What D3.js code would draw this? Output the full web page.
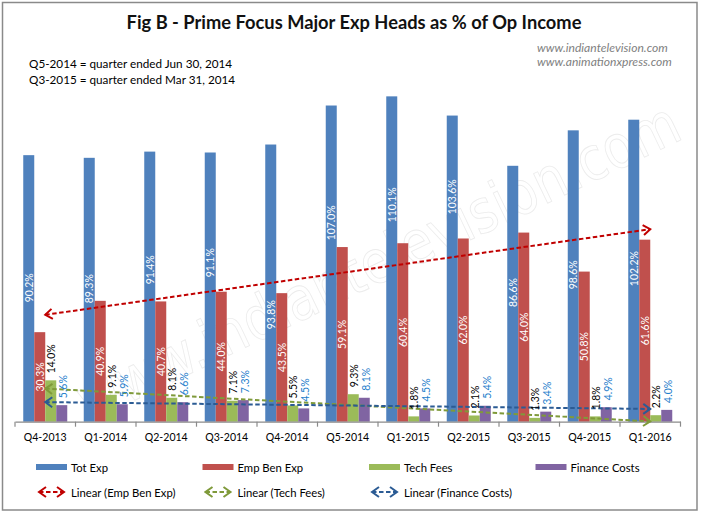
<!DOCTYPE html>
<html>
<head>
<meta charset="utf-8">
<script src="https://cdn.jsdelivr.net/npm/d3@7/dist/d3.min.js"></script>
<style>
  html, body { margin: 0; padding: 0; background: #fff; }
  svg { display: block; }
</style>
</head>
<body>
<svg id="chart" width="705" height="515"></svg>
<script>
// ---------------- DATA ----------------
const categories = ["Q4-2013","Q1-2014","Q2-2014","Q3-2014","Q4-2014","Q5-2014","Q1-2015","Q2-2015","Q3-2015","Q4-2015","Q1-2016"];
const totExp      = [90.2, 89.3, 91.4, 91.1, 93.8, 107.0, 110.1, 103.6, 86.6, 98.6, 102.2];
const empBenExp   = [30.3, 40.9, 40.7, 44.0, 43.5, 59.1, 60.4, 62.0, 64.0, 50.8, 61.6];
const techFees    = [14.0, 9.1, 8.1, 7.1, 5.5, 9.3, 1.8, 2.1, 1.3, 1.8, 2.2];
const financeCosts= [5.6, 5.9, 6.6, 7.3, 4.5, 8.1, 4.5, 5.4, 3.4, 4.9, 4.0];
// value (in %) at which each Tot Exp label is centred
const totLabelAt  = [45.3, 45.0, 51.4, 53.8, 36.2, 67.3, 73.4, 76.1, 43.7, 49.7, 51.8];
const seriesNames = ["Tot Exp","Emp Ben Exp","Tech Fees","Finance Costs"];
const trendNames  = ["Linear (Emp Ben Exp)","Linear (Tech Fees)","Linear (Finance Costs)"];
const titleText = "Fig B - Prime Focus Major Exp Heads as % of Op Income";
const noteLines = ["Q5-2014 = quarter ended Jun 30, 2014","Q3-2015 = quarter ended Mar 31, 2014"];
const siteLines = ["www.indiantelevision.com","www.animationxpress.com"];
const watermarkText = "www.indiantelevision.com";

// ---------------- STYLE ----------------
const FONT = "Lato, 'Open Sans', sans-serif";
const barColors   = ["#4F81BD","#C0504D","#9BBB59","#8064A2"];
const trendColors = ["#C00000","#7F9A3A","#2B5B94"];
const labelColors = ["#FFFFFF","#FFFFFF","#000000","#1F80CC"];

const canvas = document.createElement("canvas");
const ctx = canvas.getContext("2d");
function fit(text, target, weight = "normal", style = "normal") {
  ctx.font = `${style} ${weight} 100px Lato`;
  return 100 * target / ctx.measureText(text).width;
}

const svg = d3.select("#chart");

// border
svg.append("rect").attr("x", 2.5).attr("y", 2.5).attr("width", 694.5).attr("height", 507.5)
  .attr("fill", "#fff").attr("stroke", "#8a8a8a").attr("stroke-width", 1.5);

// scales
const baseY = 421.7;
const y = d3.scaleLinear().domain([0, 120]).range([baseY, baseY - 120 * 2.955]);
const x0 = d3.scaleBand().domain(categories).range([15, 680.5]).paddingInner(0).paddingOuter(0);
const x1 = d3.scaleBand().domain(seriesNames).range([0, x0.bandwidth()]).paddingInner(0).paddingOuter(0.75);
const allSeries = [totExp, empBenExp, techFees, financeCosts];

// watermark (faint outline)
svg.append("text")
  .attr("transform", "translate(378,261) rotate(-25.5)")
  .attr("text-anchor", "middle").attr("dominant-baseline", "central")
  .attr("font-family", "'DejaVu Sans', sans-serif").attr("font-size", 60)
  .attr("textLength", 660).attr("lengthAdjust", "spacingAndGlyphs")
  .attr("fill", "none").attr("stroke", "#ececec").attr("stroke-width", 0.9)
  .text(watermarkText);

// title
svg.append("text").attr("x", 354).attr("y", 28.5).attr("text-anchor", "middle")
  .attr("font-family", FONT).attr("font-weight", "bold")
  .attr("font-size", fit(titleText, 456, "bold")).attr("fill", "#111")
  .text(titleText);

// website lines
const siteSize = fit(siteLines[0], 131, "normal", "italic");
svg.selectAll("text.site").data(siteLines).join("text").attr("class", "site")
  .attr("x", 537).attr("y", (d, i) => 52 + i * 13.5)
  .attr("font-family", FONT).attr("font-style", "italic")
  .attr("font-size", siteSize).attr("fill", "#7f7f7f").text(d => d);

// notes
const noteSize = fit(noteLines[0], 204);
svg.selectAll("text.note").data(noteLines).join("text").attr("class", "note")
  .attr("x", 29).attr("y", (d, i) => 67.5 + i * 16.5)
  .attr("font-family", FONT).attr("font-size", noteSize).attr("fill", "#000").text(d => d);

// bars
const groups = svg.append("g").selectAll("g").data(categories).join("g")
  .attr("transform", d => `translate(${x0(d)},0)`);
seriesNames.forEach((s, si) => {
  groups.append("rect")
    .attr("x", x1(s)).attr("width", x1.bandwidth())
    .attr("y", (d, i) => y(allSeries[si][i]))
    .attr("height", (d, i) => y(0) - y(allSeries[si][i]))
    .attr("fill", barColors[si]);
});

// axis
const axis = d3.axisBottom(x0).tickSize(0).tickFormat(d => d);
const axisG = svg.append("g").attr("transform", `translate(0,${baseY})`).call(axis);
axisG.select(".domain").attr("stroke", "#8a8a8a").attr("stroke-width", 1.2);
const catLabelSize = fit("Q4-2013", 43);
axisG.selectAll(".tick text").attr("font-family", FONT).attr("font-size", catLabelSize)
  .attr("fill", "#000").attr("dy", 0).attr("y", 19.5);
// category boundary tick marks
const boundaries = categories.map(c => x0(c)).concat([x0(categories[categories.length - 1]) + x0.bandwidth()]);
svg.append("g").selectAll("line").data(boundaries).join("line")
  .attr("x1", d => d).attr("x2", d => d).attr("y1", baseY).attr("y2", baseY + 5)
  .attr("stroke", "#8a8a8a").attr("stroke-width", 1.2);

// arrow markers
const defs = svg.append("defs");
trendColors.forEach((c, i) => {
  defs.append("marker").attr("id", "arr" + i)
    .attr("viewBox", "-10 -6 12 12").attr("refX", 0).attr("refY", 0)
    .attr("markerWidth", 12).attr("markerHeight", 12).attr("markerUnits", "userSpaceOnUse")
    .attr("orient", "auto-start-reverse")
    .append("path").attr("d", "M-7,-5 L0,0 L-7,5")
    .attr("fill", "none").attr("stroke", c).attr("stroke-width", 2)
    .attr("stroke-dasharray", "none");
});

// trend lines (least squares on the series)
function linreg(vals) {
  const n = vals.length, xs = d3.range(n);
  const mx = d3.mean(xs), my = d3.mean(vals);
  const sxy = d3.sum(xs, i => (i - mx) * (vals[i] - my));
  const sxx = d3.sum(xs, i => (i - mx) * (i - mx));
  const b = sxy / sxx;
  return i => my + b * (i - mx);
}
const center = i => x0(categories[i]) + x0.bandwidth() / 2;
[empBenExp, techFees, financeCosts].forEach((vals, ti) => {
  const f = linreg(vals);
  const last = vals.length - 1;
  svg.append("line")
    .attr("x1", center(0)).attr("y1", y(f(0)))
    .attr("x2", center(last)).attr("y2", y(f(last)))
    .attr("stroke", trendColors[ti]).attr("stroke-width", 2)
    .attr("stroke-dasharray", "4.5,2.5")
    .attr("marker-start", `url(#arr${ti})`).attr("marker-end", `url(#arr${ti})`);
});

// data labels
const lblSize = fit("90.2%", 29);
const fmt = v => v.toFixed(1) + "%";
const lblG = svg.append("g").attr("font-family", FONT).attr("font-size", lblSize);
categories.forEach((c, i) => {
  const bx = si => x0(c) + x1(seriesNames[si]) + x1.bandwidth() / 2;
  lblG.append("text").attr("transform", `translate(${bx(0)},${y(totLabelAt[i])}) rotate(-90)`)
    .attr("text-anchor", "middle").attr("dominant-baseline", "central")
    .attr("fill", labelColors[0]).text(fmt(totExp[i]));
  lblG.append("text").attr("transform", `translate(${bx(1)},${y(empBenExp[i] / 2)}) rotate(-90)`)
    .attr("text-anchor", "middle").attr("dominant-baseline", "central")
    .attr("fill", labelColors[1]).text(fmt(empBenExp[i]));
  lblG.append("text").attr("transform", `translate(${bx(2) + 0.5},${y(techFees[i]) - 7}) rotate(-90)`)
    .attr("text-anchor", "start").attr("dominant-baseline", "central")
    .attr("fill", labelColors[2]).text(fmt(techFees[i]));
  lblG.append("text").attr("transform", `translate(${bx(3) + 1.5},${y(financeCosts[i]) - 7}) rotate(-90)`)
    .attr("text-anchor", "start").attr("dominant-baseline", "central")
    .attr("fill", labelColors[3]).text(fmt(financeCosts[i]));
});

// legend
const legSize = fit("Tot Exp", 37);
const legX = [36, 202.5, 369, 535.5];
const leg1 = svg.append("g").attr("font-family", FONT).attr("font-size", legSize);
seriesNames.forEach((s, i) => {
  leg1.append("rect").attr("x", legX[i]).attr("y", 464).attr("width", 31).attr("height", 6)
    .attr("fill", barColors[i]);
  leg1.append("text").attr("x", legX[i] + 35).attr("y", 467.5).attr("dominant-baseline", "central")
    .attr("fill", "#000").text(s);
});
trendNames.forEach((s, i) => {
  leg1.append("line").attr("x1", legX[i] + 3).attr("x2", legX[i] + 28)
    .attr("y1", 492).attr("y2", 492)
    .attr("stroke", trendColors[i]).attr("stroke-width", 2).attr("stroke-dasharray", "4.5,2.5")
    .attr("marker-start", `url(#arr${i})`).attr("marker-end", `url(#arr${i})`);
  leg1.append("text").attr("x", legX[i] + 35).attr("y", 492.5).attr("dominant-baseline", "central")
    .attr("fill", "#000").text(s);
});
</script>
</body>
</html>
